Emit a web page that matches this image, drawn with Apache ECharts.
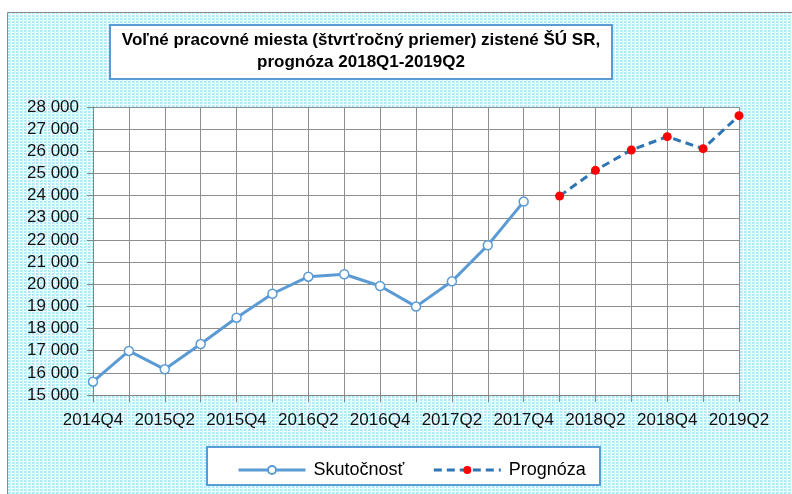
<!DOCTYPE html>
<html>
<head>
<meta charset="utf-8">
<script src="https://cdn.jsdelivr.net/npm/echarts@6/dist/echarts.min.js"></script>
<style>
  html, body { margin: 0; padding: 0; background: #fff; }
  #chart { width: 792px; height: 494px; }
</style>
</head>
<body>
<div id="chart"></div>
<script>
// quarters on the x axis
const quarters = [
    '2014Q4', '2015Q1', '2015Q2', '2015Q3', '2015Q4',
    '2016Q1', '2016Q2', '2016Q3', '2016Q4',
    '2017Q1', '2017Q2', '2017Q3', '2017Q4',
    '2018Q1', '2018Q2', '2018Q3', '2018Q4',
    '2019Q1', '2019Q2'
];

// Skutočnosť (2014Q4 - 2017Q4)
const actualValues = [15600, 16990, 16160, 17300, 18490, 19570, 20340, 20450, 19920, 18990, 20130, 21760, 23730];

// Prognóza (2018Q1 - 2019Q2)
const forecastValues = [23980, 25140, 26060, 26660, 26120, 27610];

const titleLines = [
    'Voľné pracovné miesta (štvrťročný priemer) zistené ŠÚ SR,',
    'prognóza 2018Q1-2019Q2'
];

const seriesNames = ['Skutočnosť', 'Prognóza'];

const yMin = 15000;
const yMax = 28000;
const yStep = 1000;

const FONT = 'Liberation Sans, Arial, sans-serif';

// forecast only starts after the actual values end
const forecastData = quarters.map((q, i) => {
    const k = i - actualValues.length;
    return k >= 0 ? forecastValues[k] : null;
});

// dotted light-cyan background, like the excel chart area fill
function makePattern() {
    const c = document.createElement('canvas');
    c.width = 4;
    c.height = 3;
    const ctx = c.getContext('2d');
    ctx.fillStyle = '#ffffff';
    ctx.fillRect(0, 0, 4, 3);
    ctx.fillStyle = '#aee9f9';
    ctx.fillRect(0, 0, 2, 2);
    ctx.fillStyle = '#d2f3fc';
    ctx.fillRect(2, 0, 1, 3);
    return c;
}

function formatThousands(v) {
    return String(v).replace(/\B(?=(\d{3})+(?!\d))/g, ' ');
}

const chart = echarts.init(document.getElementById('chart'), null, {renderer: 'canvas'});

const option = {
    backgroundColor: '#ffffff',
    animation: false,
    graphic: [
        {
            type: 'rect',
            z: -10,
            silent: true,
            shape: {x: 7.5, y: 12.5, width: 800, height: 500},
            style: {
                fill: {image: makePattern(), repeat: 'repeat'},
                stroke: '#8a8a8a',
                lineWidth: 1
            }
        },
        {
            // title box
            type: 'rect',
            z: 10,
            shape: {x: 110, y: 25, width: 502, height: 54},
            style: {fill: '#ffffff', stroke: '#5b9bd5', lineWidth: 2}
        },
        {
            type: 'text',
            z: 11,
            x: 361,
            y: 29,
            style: {
                text: titleLines.join('\n'),
                align: 'center',
                verticalAlign: 'top',
                font: 'bold 17px ' + FONT,
                lineHeight: 22,
                fill: '#000000'
            }
        },
        {
            // legend box
            type: 'rect',
            z: 1,
            shape: {x: 207, y: 447, width: 393, height: 38},
            style: {fill: '#ffffff', stroke: '#5b9bd5', lineWidth: 2}
        }
    ],
    grid: {
        left: 93,
        right: 53,
        top: 107,
        bottom: 99,
        show: true,
        backgroundColor: '#ffffff',
        borderWidth: 0
    },
    legend: {
        data: seriesNames,
        left: 237,
        top: 461,
        padding: 0,
        itemWidth: 67,
        itemHeight: 10,
        itemGap: 28,
        z: 5,
        lineStyle: {width: 3},
        textStyle: {fontFamily: FONT, fontSize: 18, color: '#000000', padding: [0, 0, 0, 3]}
    },
    xAxis: {
        type: 'category',
        data: quarters,
        boundaryGap: false,
        axisLine: {lineStyle: {color: '#858585', width: 1}},
        axisTick: {show: true, interval: 0, length: 7, lineStyle: {color: '#858585'}},
        axisLabel: {
            interval: 1,
            margin: 17,
            fontFamily: FONT,
            fontSize: 17,
            color: '#111111'
        },
        splitLine: {show: true, interval: 0, lineStyle: {color: '#8e8e8e', width: 1}}
    },
    yAxis: {
        type: 'value',
        min: yMin,
        max: yMax,
        interval: yStep,
        axisLine: {show: true, lineStyle: {color: '#858585', width: 1}},
        axisTick: {show: true, length: 6, lineStyle: {color: '#858585'}},
        axisLabel: {
            margin: 14,
            fontFamily: FONT,
            fontSize: 17,
            color: '#111111',
            formatter: formatThousands
        },
        splitLine: {show: true, lineStyle: {color: '#8e8e8e', width: 1}}
    },
    series: [
        {
            name: seriesNames[0],
            type: 'line',
            data: actualValues,
            symbol: 'circle',
            symbolSize: 9,
            lineStyle: {color: '#5b9bd5', width: 3},
            itemStyle: {color: '#ffffff', borderColor: '#5b9bd5', borderWidth: 1.5},
            z: 3
        },
        {
            name: seriesNames[1],
            type: 'line',
            data: forecastData,
            connectNulls: false,
            symbol: 'circle',
            symbolSize: 9,
            lineStyle: {color: '#2e75b6', width: 3, type: [8, 5]},
            itemStyle: {color: '#ff0000', borderWidth: 0},
            z: 3
        }
    ]
};

chart.setOption(option);
</script>
</body>
</html>
